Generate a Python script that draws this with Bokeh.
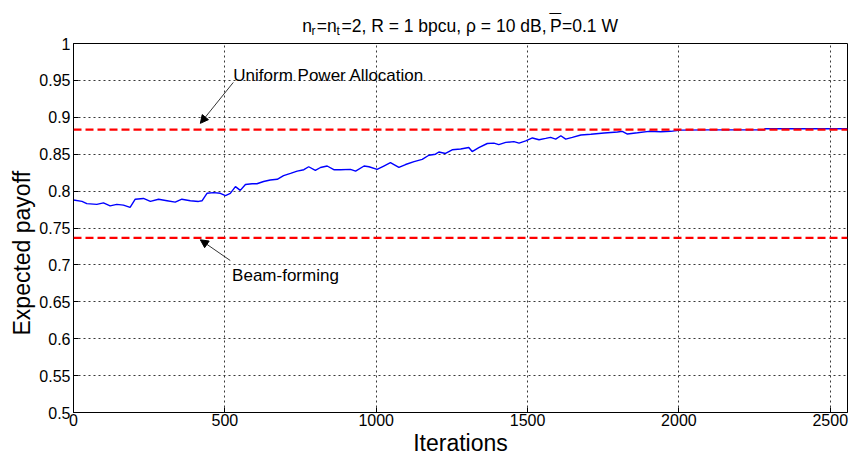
from bokeh.plotting import figure
from bokeh.layouts import column, row
from bokeh.models import (Range1d, FixedTicker, NumeralTickFormatter, Span, Label, Title,
                          Arrow, NormalHead, ColumnDataSource)
from bokeh.embed import file_html
from bokeh.resources import INLINE

# ---------------- data ----------------
iterations = [0, 28, 44, 77, 99, 121, 143, 165, 187, 204,
              231, 254, 281, 309, 336, 358, 386, 413, 425, 441,
              463, 485, 502, 518, 535, 551, 568, 590, 606, 628,
              650, 673, 694, 717, 739, 761, 777, 799, 816, 838,
              860, 882, 915, 932, 960, 976, 1003, 1025, 1047, 1075,
              1097, 1125, 1152, 1174, 1196, 1207, 1229, 1251, 1279, 1306,
              1317, 1339, 1367, 1389, 1405, 1428, 1455, 1472, 1494, 1516,
              1538, 1560, 1576, 1593, 1610, 1626, 1648, 1676, 1709, 1753,
              1797, 1813, 1830, 1863, 1901, 1940, 1973, 2006, 2095, 2282,
              2284, 2557]
expected_payoff = [0.788, 0.786, 0.783, 0.782, 0.784, 0.780, 0.782, 0.781, 0.778, 0.789,
                   0.790, 0.786, 0.789, 0.787, 0.785, 0.789, 0.787, 0.786, 0.787, 0.797,
                   0.798, 0.797, 0.794, 0.797, 0.806, 0.801, 0.809, 0.810, 0.810, 0.813,
                   0.815, 0.816, 0.821, 0.824, 0.827, 0.829, 0.833, 0.828, 0.832, 0.834,
                   0.829, 0.829, 0.8295, 0.827, 0.834, 0.833, 0.8295, 0.834, 0.8385, 0.832,
                   0.836, 0.840, 0.843, 0.8486, 0.850, 0.853, 0.851, 0.856, 0.857, 0.859,
                   0.8536, 0.859, 0.8645, 0.865, 0.863, 0.866, 0.867, 0.865, 0.868, 0.872,
                   0.8696, 0.8714, 0.8728, 0.8705, 0.875, 0.8705, 0.8728, 0.876, 0.877, 0.8787,
                   0.880, 0.881, 0.8773, 0.879, 0.881, 0.8804, 0.881, 0.8826, 0.883, 0.883,
                   0.8844, 0.8844]
uniform_power_value = 0.8834
beamforming_value = 0.7366

x_ticks = [0, 500, 1000, 1500, 2000, 2500]
y_ticks = [0.5, 0.55, 0.6, 0.65, 0.7, 0.75, 0.8, 0.85, 0.9, 0.95, 1.0]
x_max = 2557
uniform_label = "Uniform Power Allocation"
beam_label = "Beam-forming"
x_label = "Iterations"
y_label = "Expected payoff"

FONT = "Liberation Sans"
W, H = 849, 459
TITLE_H = 37
MAIN_H = H - TITLE_H
FRAME_TOP, FRAME_BOTTOM = 43, 412


# ---------------- title strip ----------------
tf = figure(width=W, height=TITLE_H, output_backend="svg", toolbar_location=None,
            x_range=Range1d(0, W), y_range=Range1d(0, TITLE_H),
            x_axis_type=None, y_axis_type=None,
            min_border=0, min_border_left=0, min_border_right=0,
            min_border_top=0, min_border_bottom=0)
tf.grid.visible = False
tf.outline_line_color = None

def tl(px, py, txt, size="17.5px"):
    tf.add_layout(Label(x=px, y=TITLE_H - py, text=txt, text_font=FONT, text_font_size=size,
                        text_color="black", text_baseline="alphabetic"))
tl(301.7, 25, "n")
tl(311.0, 30.0, "r", "12px")
tl(316.2, 25, "=n")
tl(336.0, 30.0, "t", "12px")
tl(341.0, 25, "=2, R = 1 bpcu, \u03c1 = 10 dB,")
tl(549.5, 25, "P")
tl(549.0, 19.5, "\u00af", "21px")
tl(561.5, 25, "=0.1 W")

# ---------------- main plot ----------------
p = figure(width=W, height=MAIN_H, output_backend="svg", toolbar_location=None,
           x_range=Range1d(0, x_max), y_range=Range1d(0.5, 1.0),
           min_border_left=73, min_border_right=2,
           min_border_top=FRAME_TOP - TITLE_H, min_border_bottom=H - FRAME_BOTTOM,
           background_fill_color="white", border_fill_color="white")
p.outline_line_color = "black"
p.outline_line_width = 1

p.xaxis.ticker = FixedTicker(ticks=x_ticks)
p.yaxis.ticker = FixedTicker(ticks=y_ticks)
p.yaxis.formatter = NumeralTickFormatter(format="0.[00]")
for ax in (p.xaxis[0], p.yaxis[0]):
    ax.axis_line_color = "black"
    ax.major_tick_in = 5
    ax.major_tick_out = 0
    ax.minor_tick_line_color = None
    ax.major_tick_line_color = "black"
    ax.major_label_text_font = FONT
    ax.major_label_text_font_size = "16px"
    ax.major_label_text_color = "black"
p.xaxis.major_label_standoff = 1
p.yaxis.major_label_standoff = 3
p.xaxis.axis_label = x_label
p.xaxis.axis_label_text_font = FONT
p.xaxis.axis_label_text_font_size = "23px"
p.xaxis.axis_label_text_font_style = "normal"
p.xaxis.axis_label_text_color = "black"
p.xaxis.axis_label_standoff = 1

# y label as a left-side title, starting above the frame bottom like the reference
p.add_layout(Title(text=y_label, align="left", offset=77, standoff=3,
                   text_font=FONT, text_font_size="23px", text_font_style="normal",
                   text_color="black"), "left")

for g in (p.xgrid[0], p.ygrid[0]):
    g.grid_line_color = "#222222"
    g.grid_line_dash = "2 3"
    g.grid_line_width = 1
    g.grid_line_alpha = 0.9

src = ColumnDataSource(dict(x=iterations, y=expected_payoff))
p.line("x", "y", source=src, line_color="#0000ff", line_width=1.4)

for v in (uniform_power_value, beamforming_value):
    p.add_layout(Span(location=v, dimension="width", line_color="#ff0000",
                      line_width=2.2, line_dash="8 4"))

p.add_layout(Label(x=528, y=0.957, text=uniform_label, text_font=FONT,
                   text_font_size="17px", text_color="black", text_baseline="alphabetic"))
p.add_layout(Label(x=524, y=0.6855, text=beam_label, text_font=FONT,
                   text_font_size="17px", text_color="black", text_baseline="alphabetic"))
p.add_layout(Arrow(x_start=528, y_start=0.9473, x_end=419, y_end=0.8918,
                   line_color="black", line_width=0.8,
                   end=NormalHead(size=8, fill_color="black", line_color="black", line_width=1)))
p.add_layout(Arrow(x_start=518, y_start=0.7059, x_end=419, y_end=0.7340,
                   line_color="black", line_width=0.8,
                   end=NormalHead(size=8, fill_color="black", line_color="black", line_width=1)))

layout = column(tf, row(p, spacing=0), spacing=0)
open("out.html", "w").write(file_html(layout, INLINE))
